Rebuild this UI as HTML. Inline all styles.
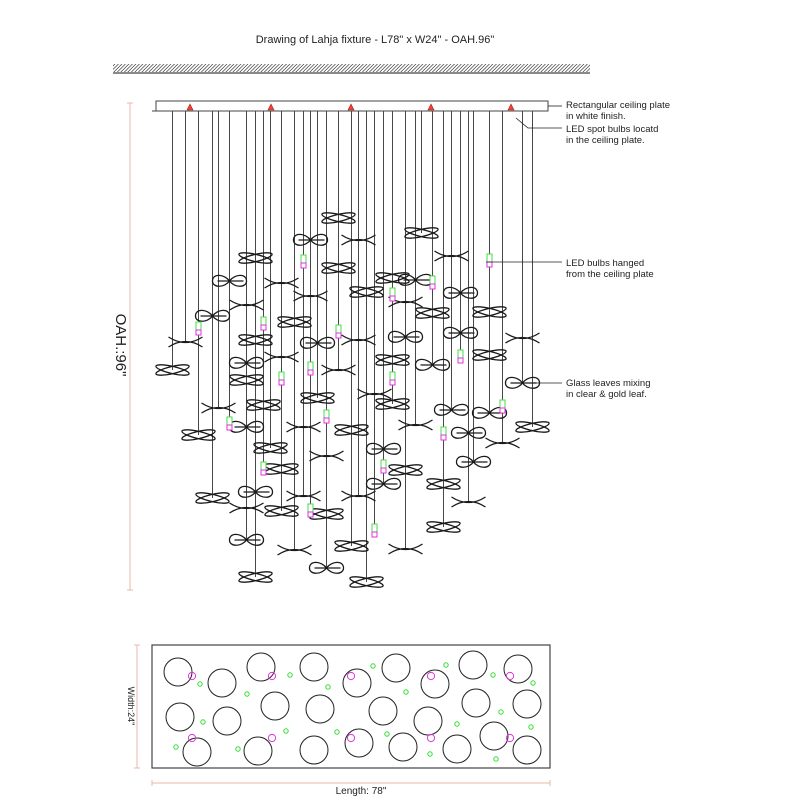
<!DOCTYPE html>
<html><head><meta charset="utf-8"><style>
html,body{margin:0;padding:0;background:#fff;}
svg{display:block;font-family:"Liberation Sans",sans-serif;}
</style></head><body>
<svg id="s" width="800" height="800" viewBox="0 0 800 800" xmlns="http://www.w3.org/2000/svg">
<defs>
<pattern id="h" width="3.5" height="8" patternUnits="userSpaceOnUse" patternTransform="skewX(-45)">
<line x1="0" y1="0" x2="0" y2="8" stroke="#111" stroke-width="1.6"/></pattern>
<g id="bow" fill="none" stroke="#1a1a1a" stroke-width="1.3">
<ellipse rx="17" ry="3.6" transform="rotate(13)"/><ellipse rx="17" ry="3.6" transform="rotate(-13)"/></g>
<g id="knot" fill="none" stroke="#1a1a1a" stroke-width="1.3">
<path d="M0,0 C-5,-7 -17,-8 -17,0 C-17,7 -5,7 0,0 C5,-7 17,-8 17,0 C17,7 5,7 0,0"/>
<path d="M-12,0 L14,0"/></g>
<g id="arc" fill="none" stroke="#1a1a1a" stroke-width="1.3">
<path d="M-17,-5 Q0,6 17,-5 M-17,5 Q0,-6 17,5"/></g>
</defs>
<text x="375" y="43" font-size="11" text-anchor="middle" fill="#222">Drawing of Lahja fixture - L78" x W24" - OAH.96"</text>
<rect x="113" y="64" width="477" height="8" fill="url(#h)"/>
<line x1="113" y1="73" x2="590" y2="73" stroke="#444" stroke-width="1.3"/>
<g id="strings" stroke="#333" stroke-width="0.9"></g>
<rect x="156" y="101" width="392" height="10" fill="#fff" stroke="#444" stroke-width="1"/>
<line x1="152" y1="111" x2="548" y2="111" stroke="#444"/>
<g fill="#e43" stroke="#a22" stroke-width="0.6">
<path d="M187,110 L190,104 L193,110Z"/><path d="M268,110 L271,104 L274,110Z"/><path d="M348,110 L351,104 L354,110Z"/><path d="M428,110 L431,104 L434,110Z"/><path d="M508,110 L511,104 L514,110Z"/></g>
<g id="leaves"></g>
<g id="bulbs"></g>
<g stroke="#e8b8a8" stroke-width="1" fill="none">
<path d="M127,103 H133 M130,103 V590 M127,590 H133"/>
<path d="M137,645 V768 M134,645 H140 M134,768 H140"/>
<path d="M152,780 V786 M152,783 H550 M550,780 V786"/></g>
<text transform="translate(116,345) rotate(90)" font-size="15" text-anchor="middle" fill="#222">OAH.:96"</text>
<text transform="translate(128,706) rotate(90)" font-size="9" text-anchor="middle" fill="#222">Width:24"</text>
<text x="361" y="794" font-size="10" text-anchor="middle" fill="#222">Length: 78"</text>
<g stroke="#222" stroke-width="0.8" fill="none">
<path d="M548,106 H562"/><path d="M516,118 L528,128 H562"/><path d="M486,262 H562"/><path d="M520,383 H562"/></g>
<g font-size="9.5" fill="#222">
<text x="566" y="108">Rectangular ceiling plate</text><text x="566" y="119">in white finish.</text>
<text x="566" y="132">LED spot bulbs locatd</text><text x="566" y="143">in the ceiling plate.</text>
<text x="566" y="266">LED bulbs hanged</text><text x="566" y="277">from the ceiling plate</text>
<text x="566" y="386">Glass leaves mixing</text><text x="566" y="397">in clear &amp; gold leaf.</text></g>
<rect x="152" y="645" width="398" height="123" fill="none" stroke="#444" stroke-width="1.2"/>
<g id="plan"></g>
</svg>
<script>
var NS="http://www.w3.org/2000/svg";
function el(p,t,a){var e=document.createElementNS(NS,t);for(var k in a)e.setAttribute(k,a[k]);document.getElementById(p).appendChild(e);return e;}
var L=[[339,218,'bow'],[421,233,'bow'],[311,240,'knot'],[362,240,'arc'],[256,258,'bow'],[449,256,'arc'],[338,268,'bow'],[228,281,'knot'],[284,283,'arc'],[392,278,'bow'],[417,280,'knot'],[458,293,'knot'],[367,292,'bow'],[311,296,'arc'],[213,316,'knot'],[249,305,'arc'],[490,312,'bow'],[403,302,'arc'],[435,313,'bow'],[294,322,'bow'],[462,333,'knot'],[185,342,'arc'],[253,340,'bow'],[314,343,'knot'],[356,340,'arc'],[520,338,'arc'],[409,337,'knot'],[282,357,'arc'],[488,355,'bow'],[396,360,'bow'],[172,370,'bow'],[245,363,'knot'],[335,370,'arc'],[430,365,'knot'],[248,380,'bow'],[524,383,'knot'],[218,408,'arc'],[266,405,'bow'],[320,398,'bow'],[371,394,'arc'],[392,404,'bow'],[491,413,'knot'],[452,410,'knot'],[300,427,'arc'],[245,427,'knot'],[199,435,'bow'],[353,430,'bow'],[412,425,'arc'],[465,433,'knot'],[532,427,'bow'],[270,448,'bow'],[381,449,'knot'],[499,443,'arc'],[329,456,'arc'],[473,462,'knot'],[405,470,'bow'],[284,469,'bow'],[442,484,'bow'],[255,492,'knot'],[385,484,'knot'],[211,498,'bow'],[303,496,'arc'],[357,496,'arc'],[244,508,'arc'],[471,502,'arc'],[278,511,'bow'],[326,514,'bow'],[441,527,'bow'],[246,540,'knot'],[349,546,'bow'],[293,550,'arc'],[403,549,'arc'],[323,568,'knot'],[257,577,'bow'],[364,582,'bow']];
var B=[[197,330],[305,263],[485,262],[390,296],[432,284],[261,325],[338,333],[460,358],[279,380],[309,370],[392,380],[229,425],[327,418],[445,435],[261,470],[384,468],[505,408],[307,512],[376,532]];
var items=[];L.forEach(function(l){items.push({x:l[0],y:l[1],t:l[2]});});
B.forEach(function(b){items.push({x:b[0],y:b[1],t:'b'});});
items.sort(function(a,b){return a.x-b.x;});
var groups=[],cur=null;
items.forEach(function(it){if(cur&&it.x-cur.start<=6){cur.m.push(it);}else{cur={start:it.x,m:[it]};groups.push(cur);}});
groups.forEach(function(g){
 var sx=0,my=0;g.m.forEach(function(it){sx+=it.x;});sx=Math.round(sx/g.m.length)+0.5;
 g.m.forEach(function(it){var yb=it.t=='b'?it.y-8:it.y;if(yb>my)my=yb;
  if(it.t=='b'){el('bulbs','rect',{x:sx-2.5,y:it.y-8,width:5,height:8,fill:'#fff',stroke:'#4d4','stroke-width':1});el('bulbs','rect',{x:sx-2.5,y:it.y,width:5,height:5,fill:'#fff',stroke:'#d3d','stroke-width':1});}
  else el('leaves','use',{href:'#'+it.t,x:sx,y:it.y});});
 el('strings','line',{x1:sx,y1:111,x2:sx,y2:my});
});
var C=[[178,672],[222,683],[261,667],[314,667],[357,683],[396,668],[435,684],[473,665],[518,669],[180,717],[227,721],[275,706],[320,709],[383,711],[428,721],[476,703],[527,704],[197,752],[258,751],[314,750],[359,743],[403,747],[457,749],[494,736],[527,750]];
C.forEach(function(c){el('plan','circle',{cx:c[0],cy:c[1],r:14,fill:'none',stroke:'#222','stroke-width':1});});
[192,272,351,431,510].forEach(function(x){[676,738].forEach(function(y){el('plan','circle',{cx:x,cy:y,r:3.6,fill:'none',stroke:'#d3d','stroke-width':1});});});
var G=[[200,684],[247,694],[290,675],[328,687],[373,666],[406,692],[446,665],[493,675],[533,683],[203,722],[286,731],[337,732],[387,734],[457,724],[501,712],[531,727],[176,747],[238,749],[430,754],[496,759]];
G.forEach(function(g){el('plan','circle',{cx:g[0],cy:g[1],r:2.2,fill:'none',stroke:'#3d3','stroke-width':1});});
</script>
</body></html>
